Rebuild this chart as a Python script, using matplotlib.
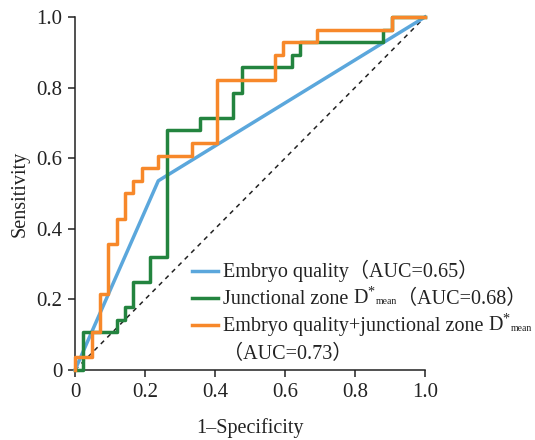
import matplotlib
matplotlib.use('Agg')
import matplotlib.pyplot as plt
from matplotlib.offsetbox import TextArea, DrawingArea, HPacker, VPacker, AnchoredOffsetbox
from matplotlib.lines import Line2D

plt.rcParams['font.family'] = ['Liberation Serif', 'Noto Sans CJK SC', 'DejaVu Sans']
plt.rcParams['mathtext.fontset'] = 'custom'
plt.rcParams['mathtext.rm'] = 'Liberation Serif'
plt.rcParams['mathtext.it'] = 'Liberation Serif:italic'
plt.rcParams['mathtext.bf'] = 'Liberation Serif:bold'

# ---- data ----
eq_fpr = [0.0, 0.238, 1.0]
eq_tpr = [0.0, 0.536, 1.0]

jz_fpr = [0.0, 0.024, 0.119, 0.143, 0.167, 0.214, 0.262, 0.357, 0.452, 0.476,
          0.619, 0.643, 0.881, 0.905, 1.0]
jz_tpr = [0.0, 0.107, 0.143, 0.179, 0.250, 0.321, 0.679, 0.714, 0.786, 0.857,
          0.893, 0.929, 0.964, 1.0, 1.0]

cb_fpr = [0.0, 0.0, 0.048, 0.071, 0.095, 0.119, 0.143, 0.167, 0.190, 0.238,
          0.333, 0.405, 0.571, 0.595, 0.690, 0.905, 1.0]
cb_tpr = [0.0, 0.036, 0.107, 0.214, 0.357, 0.429, 0.500, 0.536, 0.571, 0.607,
          0.643, 0.821, 0.893, 0.929, 0.964, 1.0, 1.0]

ref_line = [0.0, 1.0]

ticks = [0.0, 0.2, 0.4, 0.6, 0.8, 1.0]
tick_labels = ['0', '0.2', '0.4', '0.6', '0.8', '1.0']

labels_main = ['Embryo quality（AUC=0.65）', 'Junctional zone ', 'Embryo quality+junctional zone ']
label_auc2 = '（AUC=0.68）'
label_auc3 = '（AUC=0.73）'

c_blue = '#5BA7DC'
c_green = '#23843F'
c_orange = '#F7882A'
c_text = '#222222'

fig = plt.figure(figsize=(5.35, 4.4), dpi=100)
ax = fig.add_axes([75/535, 1-370/440, 350/535, 353/440])

lw = 2.5
ax.plot(ref_line, ref_line, color=c_text, lw=1.1, ls=(0, (3, 3)), clip_on=False, zorder=1)
ax.plot(eq_fpr, eq_tpr, color=c_blue, lw=lw, clip_on=False, zorder=2)
ax.plot(jz_fpr, jz_tpr, color=c_green, lw=lw, drawstyle='steps-post', clip_on=False, zorder=3)
ax.plot(cb_fpr, cb_tpr, color=c_orange, lw=lw, drawstyle='steps-post', clip_on=False, zorder=4)

ax.set_xlim(0, 1)
ax.set_ylim(0, 1)
ax.set_xticks(ticks)
ax.set_xticklabels(tick_labels)
ax.set_yticks(ticks)
ax.set_yticklabels(tick_labels)
for s in ['top', 'right']:
    ax.spines[s].set_visible(False)
for s in ['left', 'bottom']:
    ax.spines[s].set_linewidth(1.1)
    ax.spines[s].set_color(c_text)
ax.tick_params(direction='out', length=5, width=1.1, color=c_text,
               labelsize=15, labelcolor=c_text, pad=4)
ax.set_xlabel('1–Specificity', fontsize=14.5, color=c_text, labelpad=12)
ax.set_ylabel('Sensitivity', fontsize=14.5, color=c_text, labelpad=5)

# ---- legend built from packed pieces ----
fs = 14.5
tp = dict(fontsize=fs, color=c_text)
sp = dict(fontsize=7, color=c_text)

def handle(color):
    da = DrawingArea(19, 10, 0, 0)
    if color is not None:
        da.add_artist(Line2D([0, 19], [5, 5], color=color, lw=lw))
    return da

row1 = HPacker(children=[handle(c_blue), TextArea(labels_main[0], textprops=tp)],
               align='center', pad=0, sep=3)
row2 = HPacker(children=[handle(c_green),
                         HPacker(children=[TextArea(labels_main[1], textprops=tp),
                                           TextArea(r'$\mathrm{D}^{*}$', textprops=tp),
                                           TextArea('mean', textprops=sp),
                                           TextArea(label_auc2, textprops=tp)],
                                 align='baseline', pad=0, sep=0)],
               align='center', pad=0, sep=3)
row3 = HPacker(children=[handle(c_orange),
                         HPacker(children=[TextArea(labels_main[2], textprops=tp),
                                           TextArea(r'$\mathrm{D}^{*}$', textprops=tp),
                                           TextArea('mean', textprops=sp)],
                                 align='baseline', pad=0, sep=0)],
               align='center', pad=0, sep=3)
row4 = HPacker(children=[handle(None), TextArea(label_auc3, textprops=tp)],
               align='center', pad=0, sep=3)
top_rows = VPacker(children=[row1, row2, row3], align='left', pad=0, sep=4)
box = VPacker(children=[top_rows, row4], align='left', pad=0, sep=6.5)
anch = AnchoredOffsetbox(loc='upper left', child=box, frameon=False, pad=0, borderpad=0,
                         bbox_to_anchor=(192/535, 1-260/440), bbox_transform=fig.transFigure)
fig.add_artist(anch)

fig.savefig('out.png', dpi=100)
